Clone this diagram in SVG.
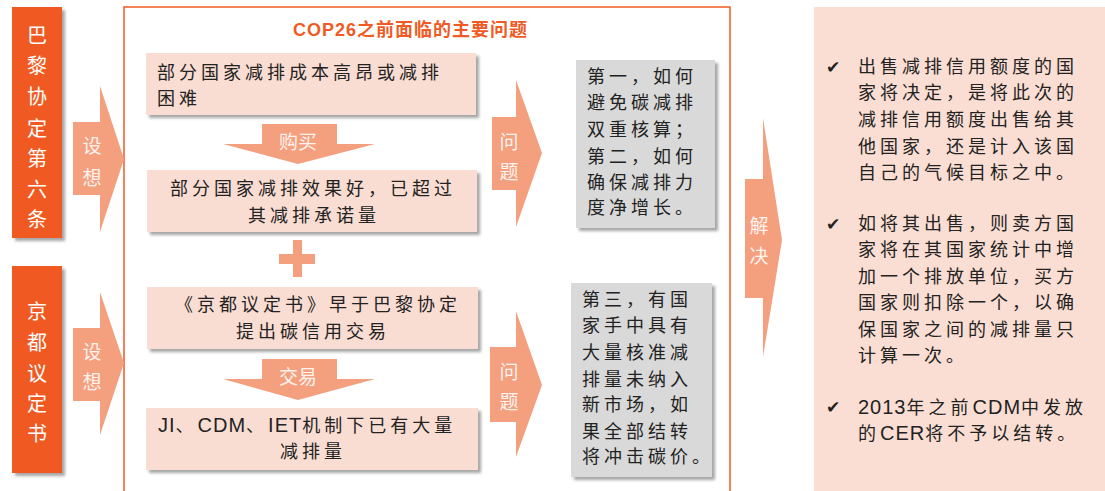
<svg xmlns="http://www.w3.org/2000/svg" width="1105" height="491" viewBox="0 0 1105 491">
<defs>
<filter id="sh" x="-10%" y="-10%" width="130%" height="130%">
<feDropShadow dx="3" dy="3" stdDeviation="1.8" flood-color="#000" flood-opacity="0.35"/>
</filter>
<style>
.cn{font-family:"Noto Sans CJK SC","Liberation Sans",sans-serif;font-size:18px;fill:#222;letter-spacing:4px}
.lt{font-family:"Liberation Sans",sans-serif;font-size:20px;letter-spacing:1px}
.side{font-family:"Noto Sans CJK SC",sans-serif;font-size:20px;fill:#fff;text-anchor:middle;dominant-baseline:central}
.arw{fill:#F4A07F}
.at{font-family:"Noto Sans CJK SC",sans-serif;font-size:19px;fill:#FFF3EE;text-anchor:middle;dominant-baseline:central}
.pink{fill:#FADDD2}
.grey{fill:#D9D9D9}
.chk{font-family:"DejaVu Sans",sans-serif;font-size:17px;fill:#222}
</style>
</defs>

<g id="side-paris">
<rect x="12" y="7" width="50" height="231" fill="#F05A24" filter="url(#sh)"/>
<text class="side" x="37" y="34">巴</text>
<text class="side" x="37" y="64">黎</text>
<text class="side" x="37" y="95">协</text>
<text class="side" x="37" y="127">定</text>
<text class="side" x="37" y="157">第</text>
<text class="side" x="37" y="188">六</text>
<text class="side" x="37" y="218">条</text>
</g>

<g id="side-kyoto">
<rect x="12" y="266" width="50" height="207" fill="#F05A24" filter="url(#sh)"/>
<text class="side" x="37" y="310">京</text>
<text class="side" x="37" y="341">都</text>
<text class="side" x="37" y="372">议</text>
<text class="side" x="37" y="402">定</text>
<text class="side" x="37" y="432">书</text>
</g>

<g id="main-frame">
<rect x="124" y="7" width="606" height="500" fill="none" stroke="#F05A24" stroke-width="1.5"/>
<text x="293" y="36" font-family="'Liberation Sans','Noto Sans CJK SC',sans-serif" font-size="18" font-weight="bold" fill="#F05A24" letter-spacing="1">COP26之前面临的主要问题</text>
</g>

<g id="box1">
<rect class="pink" x="146" y="53" width="330" height="62" filter="url(#sh)"/>
<text class="cn" x="157" y="79">部分国家减排成本高昂或减排</text>
<text class="cn" x="157" y="105">困难</text>
</g>

<g id="box2">
<rect class="pink" x="147" y="170" width="330" height="62" filter="url(#sh)"/>
<text class="cn" x="313" y="195" text-anchor="middle">部分国家减排效果好，已超过</text>
<text class="cn" x="314" y="222" text-anchor="middle">其减排承诺量</text>
</g>

<g id="plus">
<rect x="293" y="240" width="9" height="37" fill="#F4A07F"/>
<rect x="279" y="254" width="36" height="10" fill="#F4A07F"/>
</g>

<g id="box3">
<rect class="pink" x="147" y="287" width="331" height="62" filter="url(#sh)"/>
<text class="cn" x="318" y="311" text-anchor="middle">《京都议定书》早于巴黎协定</text>
<text class="cn" x="313" y="338" text-anchor="middle">提出碳信用交易</text>
</g>

<g id="box4">
<rect class="pink" x="146" y="408" width="332" height="62" filter="url(#sh)"/>
<text class="cn" x="158" y="432"><tspan class="lt">JI</tspan>、<tspan class="lt">CDM</tspan>、<tspan class="lt">IET</tspan>机制下已有大量</text>
<text class="cn" x="313" y="458" text-anchor="middle">减排量</text>
</g>

<g id="grey1">
<rect class="grey" x="576" y="60" width="139" height="168" filter="url(#sh)"/>
<text class="cn" x="587" y="83">第一，如何</text>
<text class="cn" x="587" y="109">避免碳减排</text>
<text class="cn" x="587" y="136">双重核算；</text>
<text class="cn" x="587" y="163">第二，如何</text>
<text class="cn" x="587" y="189">确保减排力</text>
<text class="cn" x="587" y="214">度净增长。</text>
</g>

<g id="grey2">
<rect class="grey" x="571" y="283" width="141" height="194" filter="url(#sh)"/>
<text class="cn" x="582" y="306">第三，有国</text>
<text class="cn" x="582" y="332">家手中具有</text>
<text class="cn" x="582" y="359">大量核准减</text>
<text class="cn" x="582" y="386">排量未纳入</text>
<text class="cn" x="582" y="411">新市场，如</text>
<text class="cn" x="582" y="438">果全部结转</text>
<text class="cn" x="582" y="463">将冲击碳价。</text>
</g>

<g id="right-panel">
<rect x="814" y="7" width="300" height="490" fill="#FBDED3"/>
<text class="chk" x="826" y="73">✔</text>
<text class="cn" x="858" y="73">出售减排信用额度的国</text>
<text class="cn" x="858" y="99">家将决定，是将此次的</text>
<text class="cn" x="858" y="126">减排信用额度出售给其</text>
<text class="cn" x="858" y="153">他国家，还是计入该国</text>
<text class="cn" x="858" y="179">自己的气候目标之中。</text>
<text class="chk" x="826" y="230">✔</text>
<text class="cn" x="858" y="230">如将其出售，则卖方国</text>
<text class="cn" x="858" y="256">家将在其国家统计中增</text>
<text class="cn" x="858" y="283">加一个排放单位，买方</text>
<text class="cn" x="858" y="309">国家则扣除一个，以确</text>
<text class="cn" x="858" y="336">保国家之间的减排量只</text>
<text class="cn" x="858" y="362">计算一次。</text>
<text class="chk" x="826" y="413">✔</text>
<text class="cn" x="858" y="414"><tspan class="lt">2013</tspan>年之前<tspan class="lt">CDM</tspan>中发放</text>
<text class="cn" x="858" y="440">的<tspan class="lt">CER</tspan>将不予以结转。</text>
</g>

<g id="connectors">
<polygon class="arw" points="73,122 100,122 100,86 124,159 100,232 100,195 73,195"/>
<text class="at" x="92" y="144">设</text>
<text class="at" x="92" y="176">想</text>
<polygon class="arw" points="73,328 100,328 100,292 124,363 100,435 100,401 73,401"/>
<text class="at" x="92" y="350">设</text>
<text class="at" x="92" y="380">想</text>
<polygon class="arw" points="262,124 337,124 337,144 375,144 298,164 223,144 262,144"/>
<text class="at" x="298" y="140">购买</text>
<polygon class="arw" points="262,359 337,359 337,379 375,379 298,400 223,379 262,379"/>
<text class="at" x="298" y="375">交易</text>
<polygon class="arw" points="492,117 516,117 516,80 542,153 516,227 516,190 492,190"/>
<text class="at" x="509" y="140">问</text>
<text class="at" x="509" y="170">题</text>
<polygon class="arw" points="490,347 516,347 516,311 542,385 516,457 516,422 490,422"/>
<text class="at" x="509" y="370">问</text>
<text class="at" x="509" y="400">题</text>
<polygon class="arw" points="745,179 763,179 763,118 782,240 763,357 763,298 745,298"/>
<text class="at" x="759" y="224">解</text>
<text class="at" x="759" y="254">决</text>
</g>
</svg>
